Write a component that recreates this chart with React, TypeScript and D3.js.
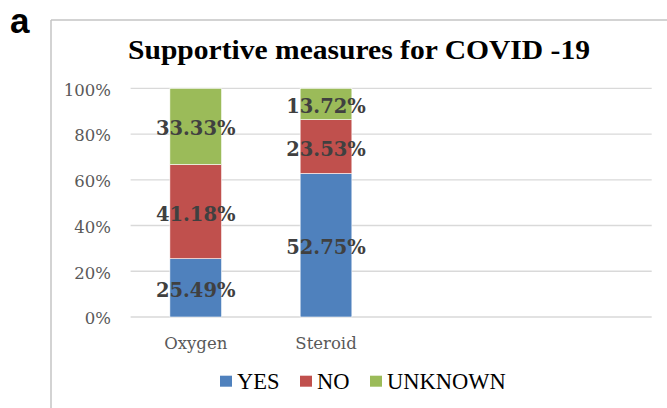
import React from "react";
import * as d3 from "d3";

const categories: string[] = ["Oxygen", "Steroid"];
const slotCount = 4; // axis has room for four categories; only two are filled
const seriesNames: string[] = ["YES", "NO", "UNKNOWN"];
const seriesColors: string[] = ["#4F81BD", "#C0504D", "#9BBB59"];
const yesValues: number[] = [25.49, 62.75];
const noValues: number[] = [41.18, 23.53];
const unknownValues: number[] = [33.33, 13.72];
const yesLabels: string[] = ["25.49%", "52.75%"];
const noLabels: string[] = ["41.18%", "23.53%"];
const unknownLabels: string[] = ["33.33%", "13.72%"];
const yTicks: number[] = [0, 20, 40, 60, 80, 100];
const title = "Supportive measures for COVID -19";
const panelLetter = "a";

const W = 667;
const H = 408;

export default function App() {
  const x = d3
    .scaleBand<number>()
    .domain(d3.range(slotCount))
    .range([130.6, 651.7])
    .paddingInner(0.603)
    .paddingOuter(0.3015);
  const y = d3.scaleLinear().domain([0, 100]).range([317, 88.3]);

  const rows = categories.map((c, i) => ({
    cat: c,
    i,
    YES: yesValues[i],
    NO: noValues[i],
    UNKNOWN: unknownValues[i],
  }));
  const labelSets = [yesLabels, noLabels, unknownLabels];
  const stack = d3.stack<any>().keys(seriesNames)(rows);

  const tickFont = "'DejaVu Serif', serif";
  const legendStarts = [220, 300, 370];

  return (
    <svg
      width={W}
      height={H}
      style={{ position: "absolute", left: 0, top: 0, background: "#fff" }}
    >
      <rect x={0} y={0} width={W} height={H} fill="#fff" />
      {/* panel letter */}
      <text
        x={10}
        y={33}
        fontFamily="'Liberation Sans', Arial, sans-serif"
        fontWeight="bold"
        fontSize={35}
        fill="#000"
      >
        {panelLetter}
      </text>
      {/* chart frame */}
      <line x1={51} y1={20} x2={W} y2={20} stroke="#c4c4c4" strokeWidth={1.5} />
      <line x1={51} y1={20} x2={51} y2={H} stroke="#c4c4c4" strokeWidth={1.5} />
      {/* title */}
      <text
        x={128}
        y={58.5}
        fontFamily="'Liberation Serif', 'Times New Roman', serif"
        fontWeight="bold"
        fontSize={27}
        textLength={462}
        lengthAdjust="spacingAndGlyphs"
        fill="#000"
      >
        {title}
      </text>
      {/* gridlines + y ticks */}
      {yTicks.map((t) => (
        <g key={t}>
          <line
            x1={130.6}
            x2={651.7}
            y1={y(t)}
            y2={y(t)}
            stroke="#d9d9d9"
            strokeWidth={1.3}
          />
          <text
            x={111}
            y={y(t) + 7.3}
            textAnchor="end"
            fontFamily={tickFont}
            fontSize={16.5}
            fill="#595959"
          >
            {t}%
          </text>
        </g>
      ))}
      {/* bars */}
      {stack.map((s, si) => (
        <g key={s.key}>
          {s.map((d, di) => (
            <rect
              key={di}
              x={x(di)!}
              width={x.bandwidth()}
              y={y(d[1])}
              height={y(d[0]) - y(d[1])}
              fill={seriesColors[si]}
              stroke="#fff"
              strokeWidth={0.6}
            />
          ))}
        </g>
      ))}
      {/* data labels */}
      {stack.map((s, si) => (
        <g key={"l" + s.key}>
          {s.map((d, di) => (
            <text
              key={di}
              x={x(di)! + x.bandwidth() / 2}
              y={(y(d[0]) + y(d[1])) / 2 + 9}
              textAnchor="middle"
              fontFamily="'DejaVu Serif', serif"
              fontWeight="bold"
              fontSize={19.5}
              fill="#404040"
            >
              {labelSets[si][di]}
            </text>
          ))}
        </g>
      ))}
      {/* category labels */}
      {categories.map((c, i) => (
        <text
          key={c}
          x={x(i)! + x.bandwidth() / 2}
          y={349}
          textAnchor="middle"
          fontFamily={tickFont}
          fontSize={16.5}
          fill="#595959"
        >
          {c}
        </text>
      ))}
      {/* legend */}
      {seriesNames.map((n, i) => (
        <g key={n}>
          <rect
            x={legendStarts[i]}
            y={375.7}
            width={12}
            height={11}
            fill={seriesColors[i]}
          />
          <text
            x={legendStarts[i] + 17}
            y={388.5}
            fontFamily="'Liberation Serif', 'Times New Roman', serif"
            fontSize={22.5}
            fill="#000"
          >
            {n}
          </text>
        </g>
      ))}
    </svg>
  );
}
